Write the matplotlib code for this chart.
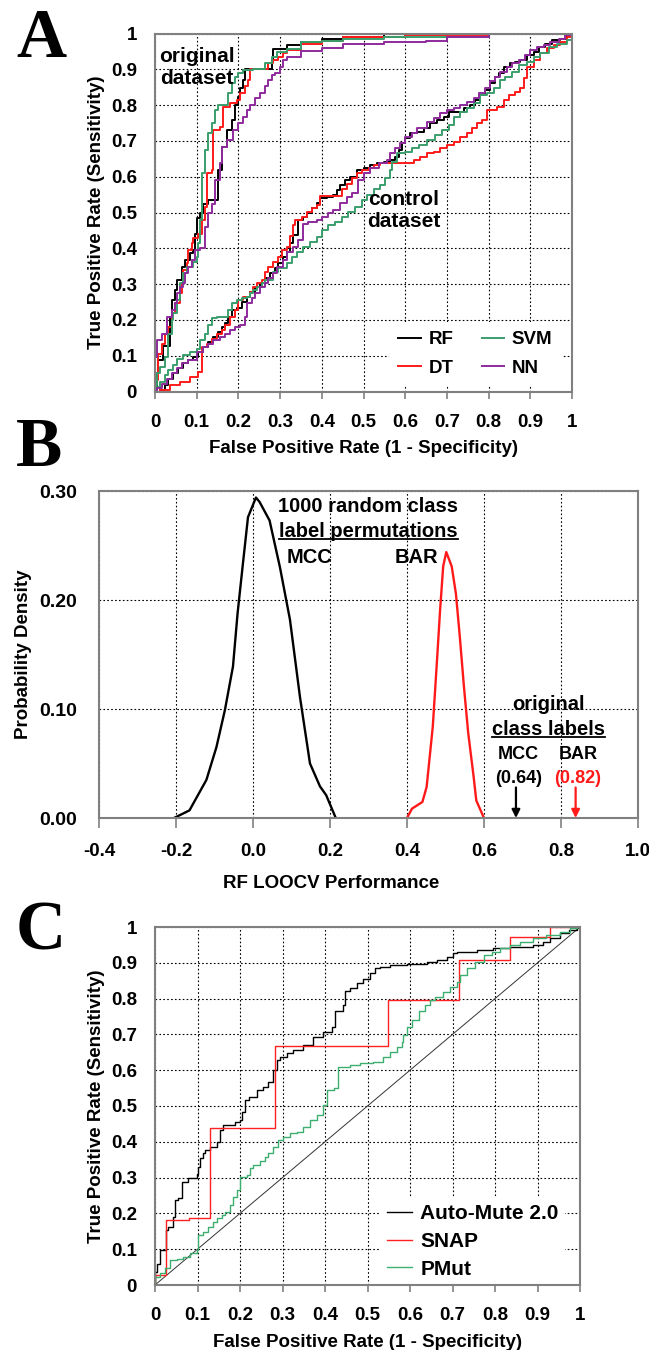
import matplotlib
matplotlib.use("Agg")
import matplotlib.pyplot as plt
from matplotlib.lines import Line2D
import numpy as np

plt.rcParams['font.family'] = ['Liberation Sans', 'DejaVu Sans']
plt.rcParams['font.weight'] = 'bold'

# ---------------- Panel A data (FPR, TPR) ----------------
rf_original = [(0, 0), (0.004, 0.051), (0.008, 0.088), (0.02, 0.126), (0.036, 0.209), (0.04, 0.256),
               (0.048, 0.284), (0.052, 0.312), (0.064, 0.349), (0.072, 0.367), (0.084, 0.386), (0.092, 0.395),
               (0.096, 0.441), (0.1, 0.484), (0.108, 0.498), (0.116, 0.525), (0.128, 0.535), (0.152, 0.619),
               (0.16, 0.684), (0.172, 0.731), (0.184, 0.759), (0.192, 0.8), (0.2, 0.824), (0.204, 0.847),
               (0.212, 0.87), (0.216, 0.9), (0.28, 0.926), (0.284, 0.958), (0.316, 0.968), (0.35, 0.975),
               (0.4, 0.985), (0.45, 0.99), (0.55, 1.0), (1.0, 1.0)]
dt_original = [(0, 0), (0, 0.032), (0.008, 0.106), (0.016, 0.134), (0.024, 0.162), (0.032, 0.181), (0.04, 0.218),
               (0.048, 0.246), (0.06, 0.274), (0.064, 0.302), (0.068, 0.339), (0.076, 0.358), (0.08, 0.395),
               (0.088, 0.414), (0.092, 0.428), (0.104, 0.441), (0.112, 0.479), (0.12, 0.516), (0.124, 0.61),
               (0.136, 0.619), (0.14, 0.731), (0.156, 0.74), (0.164, 0.796), (0.18, 0.805), (0.196, 0.814),
               (0.204, 0.833), (0.216, 0.852), (0.224, 0.87), (0.228, 0.9), (0.272, 0.917), (0.284, 0.926),
               (0.296, 0.935), (0.308, 0.945), (0.316, 0.954), (0.35, 0.97), (0.4, 0.98), (0.45, 0.99),
               (0.6, 0.995), (0.8, 1.0), (1.0, 1.0)]
svm_original = [(0, 0), (0, 0.018), (0.004, 0.051), (0.012, 0.069), (0.024, 0.097), (0.032, 0.162), (0.04, 0.2),
                (0.044, 0.218), (0.052, 0.256), (0.06, 0.302), (0.068, 0.33), (0.076, 0.349), (0.092, 0.363),
                (0.1, 0.377), (0.104, 0.414), (0.108, 0.479), (0.112, 0.61), (0.12, 0.675), (0.128, 0.722),
                (0.136, 0.749), (0.144, 0.786), (0.152, 0.8), (0.176, 0.833), (0.184, 0.861), (0.192, 0.879),
                (0.2, 0.889), (0.212, 0.898), (0.236, 0.9), (0.264, 0.917), (0.28, 0.935), (0.292, 0.949),
                (0.316, 0.958), (0.35, 0.975), (0.4, 0.98), (0.45, 0.985), (0.55, 0.99), (0.8, 1.0), (1.0, 1.0)]
nn_original = [(0, 0), (0, 0.097), (0.004, 0.144), (0.016, 0.162), (0.028, 0.209), (0.04, 0.227), (0.048, 0.246),
               (0.052, 0.274), (0.06, 0.293), (0.068, 0.302), (0.072, 0.33), (0.08, 0.349), (0.088, 0.367),
               (0.096, 0.395), (0.108, 0.4), (0.12, 0.46), (0.128, 0.498), (0.136, 0.525), (0.144, 0.59),
               (0.156, 0.637), (0.16, 0.684), (0.172, 0.703), (0.188, 0.731), (0.2, 0.749), (0.212, 0.768),
               (0.22, 0.786), (0.228, 0.8), (0.24, 0.819), (0.252, 0.833), (0.264, 0.852), (0.272, 0.87),
               (0.28, 0.884), (0.288, 0.889), (0.3, 0.907), (0.308, 0.926), (0.316, 0.935), (0.35, 0.95),
               (0.4, 0.96), (0.45, 0.97), (0.55, 0.975), (0.65, 0.98), (0.7, 0.99), (0.8, 1.0), (1.0, 1.0)]

rf_control = [(0, 0), (0.012, 0.004), (0.024, 0.018), (0.032, 0.036), (0.044, 0.051), (0.056, 0.065),
              (0.068, 0.079), (0.08, 0.088), (0.092, 0.097), (0.104, 0.111), (0.116, 0.125), (0.128, 0.139),
              (0.14, 0.153), (0.152, 0.167), (0.16, 0.181), (0.168, 0.19), (0.176, 0.209), (0.184, 0.227),
              (0.196, 0.232), (0.208, 0.251), (0.22, 0.265), (0.228, 0.279), (0.24, 0.293), (0.252, 0.302),
              (0.264, 0.316), (0.276, 0.33), (0.288, 0.344), (0.296, 0.358), (0.308, 0.376), (0.316, 0.39),
              (0.324, 0.414), (0.332, 0.437), (0.344, 0.479), (0.356, 0.488), (0.364, 0.498), (0.376, 0.512),
              (0.388, 0.526), (0.396, 0.54), (0.412, 0.544), (0.428, 0.549), (0.436, 0.563), (0.444, 0.577),
              (0.456, 0.591), (0.468, 0.6), (0.484, 0.618), (0.5, 0.623), (0.516, 0.632), (0.532, 0.637),
              (0.548, 0.642), (0.564, 0.647), (0.576, 0.656), (0.584, 0.675), (0.592, 0.694), (0.6, 0.707),
              (0.612, 0.721), (0.628, 0.726), (0.644, 0.735), (0.66, 0.749), (0.676, 0.759), (0.692, 0.768),
              (0.704, 0.782), (0.74, 0.791), (0.756, 0.8), (0.768, 0.814), (0.78, 0.828), (0.792, 0.842),
              (0.804, 0.861), (0.816, 0.879), (0.824, 0.889), (0.836, 0.907), (0.852, 0.917), (0.864, 0.921),
              (0.876, 0.926), (0.892, 0.94), (0.908, 0.949), (0.92, 0.963), (0.936, 0.972), (0.952, 0.982),
              (0.972, 0.986), (0.988, 0.996), (1.0, 1.0)]
dt_control = [(0, 0), (0.012, 0.004), (0.036, 0.018), (0.06, 0.027), (0.084, 0.041), (0.104, 0.055),
              (0.112, 0.125), (0.124, 0.134), (0.136, 0.148), (0.148, 0.162), (0.16, 0.172), (0.168, 0.186),
              (0.18, 0.209), (0.192, 0.227), (0.2, 0.256), (0.212, 0.265), (0.228, 0.279), (0.236, 0.293),
              (0.244, 0.302), (0.256, 0.311), (0.264, 0.335), (0.272, 0.349), (0.284, 0.363), (0.296, 0.376),
              (0.304, 0.395), (0.316, 0.404), (0.324, 0.433), (0.332, 0.465), (0.336, 0.479), (0.352, 0.488),
              (0.364, 0.502), (0.376, 0.512), (0.388, 0.521), (0.396, 0.546), (0.448, 0.567), (0.46, 0.581),
              (0.472, 0.595), (0.484, 0.609), (0.496, 0.619), (0.512, 0.623), (0.524, 0.632), (0.54, 0.637),
              (0.62, 0.647), (0.636, 0.656), (0.652, 0.665), (0.668, 0.67), (0.684, 0.679), (0.7, 0.689),
              (0.716, 0.698), (0.732, 0.712), (0.748, 0.721), (0.76, 0.735), (0.772, 0.749), (0.784, 0.759),
              (0.796, 0.786), (0.82, 0.795), (0.836, 0.814), (0.848, 0.828), (0.864, 0.837), (0.876, 0.847),
              (0.884, 0.875), (0.892, 0.907), (0.908, 0.926), (0.924, 0.945), (0.94, 0.959), (0.956, 0.968),
              (0.972, 0.977), (0.988, 0.991), (1.0, 1.0)]
svm_control = [(0, 0), (0, 0.013), (0.012, 0.027), (0.024, 0.046), (0.032, 0.06), (0.044, 0.074),
               (0.052, 0.092), (0.068, 0.102), (0.084, 0.111), (0.1, 0.12), (0.108, 0.144), (0.12, 0.162),
               (0.128, 0.186), (0.136, 0.204), (0.148, 0.209), (0.176, 0.227), (0.184, 0.246), (0.196, 0.256),
               (0.208, 0.26), (0.22, 0.265), (0.228, 0.274), (0.236, 0.283), (0.244, 0.293), (0.256, 0.302),
               (0.264, 0.311), (0.284, 0.335), (0.296, 0.344), (0.316, 0.358), (0.328, 0.376), (0.34, 0.39),
               (0.356, 0.404), (0.372, 0.418), (0.388, 0.432), (0.4, 0.451), (0.416, 0.465), (0.432, 0.474),
               (0.448, 0.488), (0.464, 0.502), (0.48, 0.516), (0.496, 0.535), (0.508, 0.549), (0.524, 0.567),
               (0.54, 0.577), (0.552, 0.595), (0.564, 0.618), (0.568, 0.642), (0.58, 0.665), (0.6, 0.67),
               (0.616, 0.679), (0.632, 0.689), (0.652, 0.703), (0.672, 0.717), (0.688, 0.73), (0.704, 0.745),
               (0.716, 0.768), (0.732, 0.782), (0.748, 0.791), (0.764, 0.805), (0.78, 0.828), (0.796, 0.833),
               (0.812, 0.847), (0.828, 0.87), (0.84, 0.879), (0.856, 0.893), (0.872, 0.912), (0.892, 0.921),
               (0.908, 0.935), (0.924, 0.945), (0.944, 0.963), (0.964, 0.972), (0.988, 0.982), (1.0, 0.987)]
nn_control = [(0, 0), (0.004, 0.009), (0.016, 0.022), (0.028, 0.036), (0.04, 0.051), (0.052, 0.065),
              (0.064, 0.079), (0.08, 0.088), (0.1, 0.111), (0.116, 0.125), (0.128, 0.134), (0.14, 0.144),
              (0.156, 0.153), (0.168, 0.162), (0.18, 0.172), (0.192, 0.181), (0.204, 0.186), (0.216, 0.209),
              (0.22, 0.246), (0.232, 0.26), (0.24, 0.274), (0.252, 0.293), (0.264, 0.302), (0.272, 0.316),
              (0.284, 0.33), (0.292, 0.349), (0.308, 0.367), (0.316, 0.39), (0.332, 0.404), (0.344, 0.423),
              (0.356, 0.469), (0.368, 0.474), (0.388, 0.479), (0.4, 0.488), (0.416, 0.498), (0.428, 0.507),
              (0.444, 0.526), (0.46, 0.544), (0.472, 0.554), (0.488, 0.591), (0.5, 0.609), (0.516, 0.623),
              (0.536, 0.637), (0.556, 0.647), (0.564, 0.665), (0.576, 0.679), (0.588, 0.693), (0.6, 0.712),
              (0.616, 0.721), (0.628, 0.735), (0.652, 0.754), (0.668, 0.763), (0.684, 0.777), (0.7, 0.786),
              (0.716, 0.791), (0.732, 0.8), (0.748, 0.81), (0.764, 0.819), (0.776, 0.833), (0.792, 0.847),
              (0.804, 0.866), (0.816, 0.879), (0.828, 0.893), (0.844, 0.907), (0.856, 0.917), (0.872, 0.926),
              (0.888, 0.94), (0.9, 0.954), (0.916, 0.963), (0.932, 0.968), (0.948, 0.977), (0.968, 0.986),
              (0.984, 0.996), (1.0, 1.0)]

classifiers = ["RF", "DT", "SVM", "NN"]
classifier_colors = ["#000000", "#FF1A1A", "#3A9E6C", "#8E2A9C"]

# ---------------- Panel B data ----------------
mcc_perm_x = [-0.205, -0.165, -0.121, -0.095, -0.073, -0.052, -0.04, -0.026, -0.013, 0.0076,
              0.017, 0.043, 0.07, 0.096, 0.122, 0.148, 0.174, 0.19, 0.215]
mcc_perm_y = [0.0, 0.007, 0.035, 0.065, 0.099, 0.139, 0.188, 0.234, 0.276, 0.294,
              0.29, 0.273, 0.23, 0.182, 0.111, 0.05, 0.029, 0.021, 0.0]
bar_perm_x = [0.4, 0.413, 0.44, 0.451, 0.467, 0.478, 0.486, 0.494, 0.502, 0.516, 0.527, 0.537,
              0.548, 0.559, 0.573, 0.58, 0.6]
bar_perm_y = [0.0, 0.0086, 0.0147, 0.0285, 0.084, 0.145, 0.191, 0.231, 0.244, 0.231, 0.206, 0.167,
              0.12, 0.078, 0.038, 0.016, 0.0]
orig_labels = ["MCC", "BAR"]
orig_values = ["(0.64)", "(0.82)"]
orig_arrow_x = [0.683, 0.838]
orig_colors = ["black", "#FF1A1A"]

# ---------------- Panel C data ----------------
automute = [(0, 0), (0, 0.037), (0.005, 0.06), (0.012, 0.098), (0.027, 0.154), (0.031, 0.163), (0.043, 0.19),
            (0.047, 0.237), (0.055, 0.242), (0.063, 0.289), (0.078, 0.298), (0.098, 0.31), (0.102, 0.33),
            (0.106, 0.354), (0.114, 0.368), (0.118, 0.377), (0.129, 0.386), (0.145, 0.4), (0.153, 0.433),
            (0.161, 0.447), (0.188, 0.456), (0.2, 0.461), (0.204, 0.484), (0.212, 0.517), (0.22, 0.526),
            (0.239, 0.545), (0.255, 0.554), (0.267, 0.568), (0.278, 0.6), (0.286, 0.628), (0.294, 0.638),
            (0.31, 0.647), (0.325, 0.656), (0.349, 0.67), (0.372, 0.694), (0.396, 0.708), (0.416, 0.722),
            (0.424, 0.764), (0.443, 0.782), (0.447, 0.82), (0.459, 0.829), (0.475, 0.843), (0.49, 0.855),
            (0.506, 0.871), (0.518, 0.885), (0.529, 0.889), (0.553, 0.894), (0.592, 0.898), (0.639, 0.903),
            (0.663, 0.908), (0.686, 0.917), (0.702, 0.926), (0.71, 0.931), (0.757, 0.936), (0.796, 0.94),
            (0.835, 0.943), (0.875, 0.945), (0.89, 0.95), (0.914, 0.959), (0.929, 0.968), (0.953, 0.982),
            (0.973, 0.992), (0.992, 1.0), (1.0, 1.0)]
snap = [(0, 0), (0, 0.028), (0.025, 0.182), (0.081, 0.188), (0.129, 0.438), (0.282, 0.668),
        (0.549, 0.796), (0.716, 0.908), (0.835, 0.973), (0.929, 1.0), (1.0, 1.0)]
pmut = [(0, 0), (0, 0.023), (0.012, 0.033), (0.024, 0.047), (0.035, 0.07), (0.051, 0.074), (0.067, 0.079),
        (0.082, 0.088), (0.098, 0.098), (0.102, 0.14), (0.114, 0.149), (0.125, 0.163), (0.137, 0.177),
        (0.145, 0.186), (0.157, 0.196), (0.165, 0.205), (0.176, 0.223), (0.184, 0.247), (0.192, 0.265),
        (0.2, 0.303), (0.216, 0.307), (0.224, 0.326), (0.231, 0.335), (0.247, 0.345), (0.259, 0.358),
        (0.267, 0.368), (0.278, 0.386), (0.29, 0.405), (0.302, 0.414), (0.318, 0.424), (0.333, 0.428),
        (0.349, 0.442), (0.365, 0.461), (0.38, 0.475), (0.396, 0.503), (0.404, 0.545), (0.42, 0.549),
        (0.431, 0.61), (0.459, 0.615), (0.482, 0.619), (0.514, 0.624), (0.537, 0.638), (0.553, 0.652),
        (0.569, 0.666), (0.58, 0.68), (0.584, 0.698), (0.592, 0.722), (0.604, 0.74), (0.62, 0.764),
        (0.635, 0.782), (0.647, 0.796), (0.659, 0.805), (0.678, 0.819), (0.694, 0.833), (0.71, 0.847),
        (0.718, 0.866), (0.733, 0.885), (0.753, 0.903), (0.773, 0.922), (0.792, 0.931), (0.812, 0.94),
        (0.835, 0.95), (0.859, 0.959), (0.89, 0.968), (0.92, 0.978), (0.953, 0.987), (0.976, 0.996),
        (0.992, 1.0), (1.0, 1.0)]
tools = ["Auto-Mute 2.0", "SNAP", "PMut"]
tool_colors = ["#000000", "#FF2020", "#3CAF70"]

roc_ticks = [round(0.1 * i, 1) for i in range(11)]
roc_ticklabels = ["0", "0.1", "0.2", "0.3", "0.4", "0.5", "0.6", "0.7", "0.8", "0.9", "1"]

SPINE = "#808080"
FS = 13.5

fig = plt.figure(figsize=(6.49, 13.5), dpi=100)


def style_roc(ax):
    ax.set_xlim(0, 1)
    ax.set_ylim(0, 1)
    ax.set_xticks(roc_ticks)
    ax.set_xticklabels(roc_ticklabels)
    ax.set_yticks(roc_ticks)
    ax.set_yticklabels(roc_ticklabels)
    ax.grid(True, color="black", linestyle=(0, (1.5, 2)), linewidth=0.8)
    ax.set_axisbelow(True)
    for s in ax.spines.values():
        s.set_color(SPINE)
        s.set_linewidth(1.5)
        s.set_zorder(6)
    ax.tick_params(axis="x", direction="out", length=5, width=1.2, color=SPINE, pad=11, labelsize=FS)
    ax.tick_params(axis="y", length=0, pad=13, labelsize=FS)
    ax.set_xlabel("False Positive Rate (1 - Specificity)", fontsize=FS, fontweight="bold", labelpad=7)
    ax.set_ylabel("True Positive Rate (Sensitivity)", fontsize=FS, fontweight="bold", labelpad=4)


def steps(ax, pts, **kw):
    xs = [p[0] for p in pts]
    ys = [p[1] for p in pts]
    return ax.plot(xs, ys, drawstyle="steps-post", **kw)[0]


# ---------------- Panel A ----------------
axA = fig.add_axes([155 / 649, 1 - 391.5 / 1350, 417 / 649, 358 / 1350])
style_roc(axA)
handles = []
for name, col, orig, ctrl in zip(classifiers, classifier_colors,
                                 [rf_original, dt_original, svm_original, nn_original],
                                 [rf_control, dt_control, svm_control, nn_control]):
    h = steps(axA, orig, color=col, lw=1.4, label=name)
    steps(axA, ctrl, color=col, lw=1.4)
    handles.append(h)
axA.text(0.1, 0.905, "original\ndataset", fontsize=15, fontweight="bold", ha="center", va="center",
         linespacing=1.2)
axA.text(0.597, 0.505, "control\ndataset", fontsize=15, fontweight="bold", ha="center", va="center",
         linespacing=1.2)
legA = axA.legend(handles=handles, ncol=2, loc="lower right", bbox_to_anchor=(0.975, 0.015),
                  fontsize=FS, frameon=True, framealpha=1, facecolor="white", edgecolor="none",
                  fancybox=False, handlelength=1.2, handletextpad=0.4, columnspacing=1.5,
                  borderpad=0.5, labelspacing=0.6, borderaxespad=0)

# ---------------- Panel B ----------------
axB = fig.add_axes([99 / 649, 1 - 818 / 1350, 539 / 649, 327 / 1350])
axB.set_xlim(-0.4, 1.0)
axB.set_ylim(0, 0.30)
axB.set_xticks([-0.4, -0.2, 0.0, 0.2, 0.4, 0.6, 0.8, 1.0])
axB.set_xticklabels(["-0.4", "-0.2", "0.0", "0.2", "0.4", "0.6", "0.8", "1.0"])
axB.set_yticks([0.0, 0.1, 0.2, 0.3])
axB.set_yticklabels(["0.00", "0.10", "0.20", "0.30"])
axB.grid(True, color="black", linestyle=(0, (1.5, 2)), linewidth=0.8)
axB.set_axisbelow(True)
for s in axB.spines.values():
    s.set_color(SPINE)
    s.set_linewidth(1.5)
axB.tick_params(axis="x", direction="out", length=7, width=1.2, color=SPINE, pad=11, labelsize=13.5)
axB.tick_params(axis="y", length=0, pad=16, labelsize=14)
axB.set_xlabel("RF LOOCV Performance", fontsize=FS, fontweight="bold")
axB.xaxis.set_label_coords(0.43, -0.175)
axB.set_ylabel("Probability Density", fontsize=FS, fontweight="bold", labelpad=5)
axB.plot(mcc_perm_x, mcc_perm_y, color="black", lw=1.7)
axB.plot(bar_perm_x, bar_perm_y, color="#FF1A1A", lw=1.7)

tB1 = axB.text(0.3, 0.286, "1000 random class", fontsize=14.5, fontweight="bold", ha="center", va="center")
tB2 = axB.text(0.3, 0.263, "label permutations", fontsize=14.5, fontweight="bold", ha="center", va="center")
axB.text(0.148, 0.239, "MCC", fontsize=14.5, fontweight="bold", ha="center", va="center")
axB.text(0.424, 0.239, "BAR", fontsize=14.5, fontweight="bold", ha="center", va="center")
tB3 = axB.text(0.768, 0.104, "original", fontsize=14.5, fontweight="bold", ha="center", va="center")
tB4 = axB.text(0.768, 0.081, "class labels", fontsize=14.5, fontweight="bold", ha="center", va="center")
for lab, val, xa, col in zip(orig_labels, orig_values, orig_arrow_x, orig_colors):
    axB.text(xa + 0.006, 0.058, lab, fontsize=13, fontweight="bold", ha="center", va="center")
    axB.text(xa + 0.006, 0.036, val, fontsize=13, fontweight="bold", ha="center", va="center", color=col)
    axB.annotate("", xy=(xa, 0.0), xytext=(xa, 0.028),
                 arrowprops=dict(arrowstyle="-|>", color=col, lw=1.6, mutation_scale=12,
                                 shrinkA=0, shrinkB=0))

# ---------------- Panel C ----------------
axC = fig.add_axes([155 / 649, 1 - 1285 / 1350, 425 / 649, 358 / 1350])
style_roc(axC)
axC.plot([0, 1], [0, 1], color="#333333", lw=0.7)
hC = []
for name, col, pts in zip(tools, tool_colors, [automute, snap, pmut]):
    hC.append(steps(axC, pts, color=col, lw=1.0, label=name))
axC.legend(handles=hC, loc="lower right", bbox_to_anchor=(0.965, 0.0), fontsize=15,
           frameon=True, framealpha=1, facecolor="white", edgecolor="none", fancybox=False,
           handlelength=1.2, handletextpad=0.4, borderpad=0.3, labelspacing=0.42, borderaxespad=0)

# ---------------- panel letters ----------------
for letter, ybase in zip(["A", "B", "C"], [57, 466, 950]):
    fig.text(16 / 649, 1 - ybase / 1350, letter, fontsize=50, fontweight="bold",
             family=["Liberation Serif", "DejaVu Serif"], ha="left", va="baseline")

# ---------------- underlines (from rendered text extents) ----------------
fig.canvas.draw()
renderer = fig.canvas.get_renderer()
inv = fig.transFigure.inverted()
for t in [tB2, tB4]:
    bb = t.get_window_extent(renderer)
    (x0, y0), (x1, y1) = inv.transform([(bb.x0, bb.y0), (bb.x1, bb.y1)])
    yline = y0 + 0.0015
    fig.add_artist(Line2D([x0, x1], [yline, yline], transform=fig.transFigure, color="black", lw=1.3))

fig.savefig("out.png", dpi=100)
